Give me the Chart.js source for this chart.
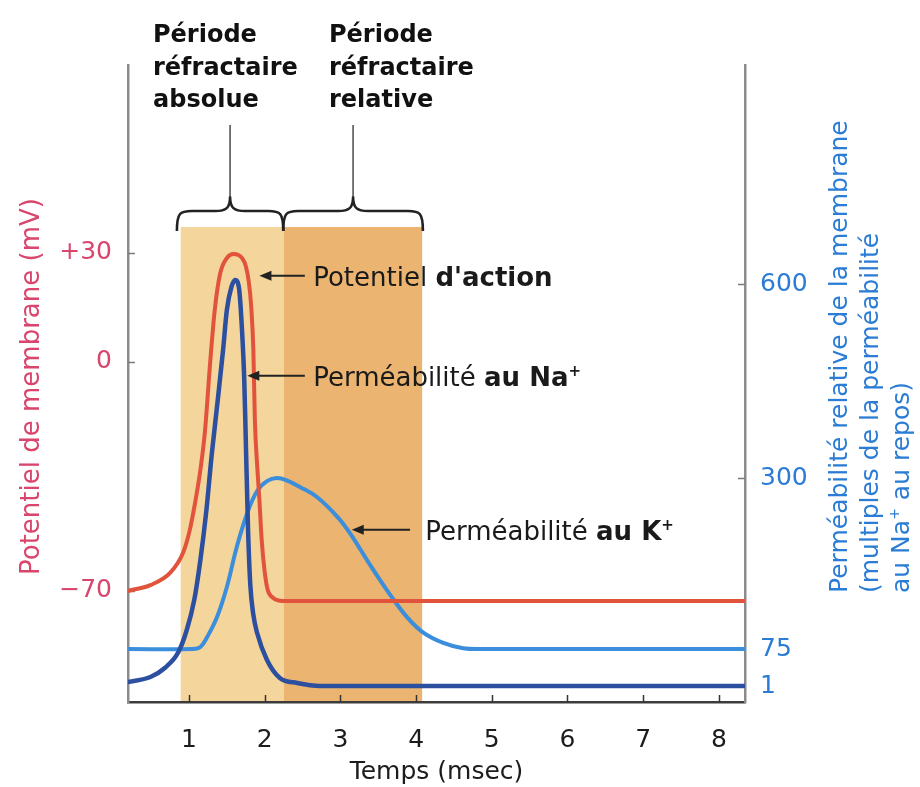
<!DOCTYPE html>
<html><head><meta charset="utf-8">
<script src="https://cdn.jsdelivr.net/npm/chart.js@4.4.0/dist/chart.umd.min.js"></script>
<style>html,body{margin:0;padding:0;background:#fff;}canvas{display:block;}</style>
</head><body>
<canvas id="c" width="920" height="787"></canvas>
<script>
// ---------- DATA ----------
const timeTicks = [1, 2, 3, 4, 5, 6, 7, 8];
const potentialTicks = [30, 0, -70];
const permeabilityTicks = [600, 300, 75, 1];

const potentialTime = [0.19,0.49,0.75,0.92,1.01,1.08,1.15,1.21,1.28,1.34,1.41,1.50,1.59,1.70,1.75,1.79,1.82,1.85,1.87,1.90,1.93,1.96,2.00,2.04,2.11,2.24,8.345];
const potentialMv   = [-70,-68.2,-64.5,-58.4,-51.4,-43.1,-33,-21.4,0,14.3,24.2,28.6,29.7,28.6,26.4,22.0,15.7,3.3,-17.7,-31.5,-42.2,-54.4,-64.2,-69.7,-72.1,-73.1,-73.1];

const naTime = [0.19,0.49,0.68,0.86,0.97,1.07,1.15,1.23,1.30,1.38,1.45,1.50,1.56,1.61,1.66,1.70,1.73,1.75,1.78,1.81,1.85,1.90,2.03,2.20,2.43,2.73,8.345];
const naPermeability = [9,19,37,69,100,140,192,258,336,421,498,560,595,606,594,529,451,359,232,159,120,96,53,17,7,1,1];

const kTime = [0.19,1.05,1.15,1.24,1.37,1.50,1.63,1.77,1.90,2.03,2.16,2.29,2.47,2.69,2.96,3.13,3.39,3.66,3.88,4.09,4.36,4.62,4.90,8.345];
const kPermeability = [75,75,77.6,90.8,117,156.6,209,254,283,296,300,297,288,275,249,227,186,146,117,97,83,76,75,75];

// refractory periods (msec): absolute [0..1], relative [1..2]
const periodBounds = [0.89, 2.255, 4.08];
const braceBounds = [0.84, 2.245, 4.09];
const periodLabels = [['Période', 'réfractaire', 'absolue'], ['Période', 'réfractaire', 'relative']];
const timeRange = [0.194, 8.345];

// ---------- STYLE / LAYOUT ----------
const FAM = '"DejaVu Sans"';
const F = (size, bold) => (bold ? 'bold ' : '') + size + 'px ' + FAM;
const COL = {
  red: '#e2533c', pink: '#d9456c', kBlue: '#3a8edb', naBlue: '#2c4f9f', blueText: '#2b7cd5',
  ink: '#1c1c1c', light: '#f4d59c', dark: '#ebb470'
};
// axis shapes (value -> fraction of plot height from bottom)
const axisShapes = {
  yV: { values: [-70, 0, 30], fracs: [0.1743, 0.5338, 0.7049] },
  yP: { values: [1, 75, 300, 600], fracs: [0.0251, 0.0832, 0.3516, 0.6562] }
};

function interp(v, xs, ys) {
  let i = 1;
  while (i < xs.length - 1 && v > xs[i]) i++;
  const x0 = xs[i - 1], x1 = xs[i];
  return ys[i - 1] + (v - x0) * (ys[i] - ys[i - 1]) / (x1 - x0);
}

class PiecewiseScale extends Chart.LinearScale {
  static id = 'piecewise';
  getPixelForValue(value, index) {
    if (value === null || value === undefined) return NaN;
    const s = axisShapes[this.id];
    return super.getPixelForValue(interp(value, s.values, s.fracs));
  }
  getValueForPixel(pixel) {
    const s = axisShapes[this.id];
    return interp(super.getValueForPixel(pixel), s.fracs, s.values);
  }
}
Chart.register(PiecewiseScale);

function drawRuns(ctx, x, y, runs) {
  for (const r of runs) {
    ctx.font = r.font;
    ctx.fillText(r.text, x, y + (r.dy || 0));
    x += ctx.measureText(r.text).width;
  }
  return x;
}

const annotations = [
  { axis: 'yV', tipT: 1.93, tipV: 23.7, tailT: 2.53, textT: 2.64,
    runs: [{ text: 'Potentiel ', font: F(26, false) }, { text: "d'action", font: F(26, true) }] },
  { axis: 'yP', tipT: 1.77, tipV: 458, tailT: 2.53, textT: 2.64,
    runs: [{ text: 'Perméabilité ', font: F(26, false) }, { text: 'au Na', font: F(26, true) }, { text: '+', font: F(15, true), dy: -10 }] },
  { axis: 'yP', tipT: 3.15, tipV: 232, tailT: 3.92, textT: 4.12,
    runs: [{ text: 'Perméabilité ', font: F(26, false) }, { text: 'au K', font: F(26, true) }, { text: '+', font: F(15, true), dy: -10 }] }
];

const decor = {
  id: 'decor',
  beforeDraw(chart) {
    const { ctx, chartArea: ca } = chart;
    const xs = chart.scales.x;
    const top = 227;
    const cols = [COL.light, COL.dark];
    ctx.save();
    for (let i = 0; i < 2; i++) {
      const a = xs.getPixelForValue(periodBounds[i]);
      const b = xs.getPixelForValue(periodBounds[i + 1]);
      ctx.fillStyle = cols[i];
      ctx.fillRect(a, top, b - a, ca.bottom - top);
    }
    ctx.restore();
  },
  beforeDatasetsDraw(chart) {
    const { ctx, chartArea: ca } = chart;
    const xs = chart.scales.x, yV = chart.scales.yV, yP = chart.scales.yP;
    ctx.save();
    ctx.lineWidth = 1.5;
    ctx.strokeStyle = '#333';
    for (const t of timeTicks) {
      const x = Math.round(xs.getPixelForValue(t)) + 0.5;
      ctx.beginPath(); ctx.moveTo(x, ca.bottom); ctx.lineTo(x, ca.bottom - 7); ctx.stroke();
    }
    ctx.strokeStyle = '#7a7a7a';
    for (const v of potentialTicks) {
      const y = Math.round(yV.getPixelForValue(v)) + 0.5;
      ctx.beginPath(); ctx.moveTo(ca.left, y); ctx.lineTo(ca.left + 7, y); ctx.stroke();
    }
    for (const v of permeabilityTicks) {
      const y = Math.round(yP.getPixelForValue(v)) + 0.5;
      ctx.beginPath(); ctx.moveTo(ca.right - 7, y); ctx.lineTo(ca.right, y); ctx.stroke();
    }
    ctx.restore();
  },
  afterDatasetsDraw(chart) {
    const { ctx, chartArea: ca } = chart;
    const xs = chart.scales.x;
    ctx.save();
    // braces + stems
    const yEnd = 231, yH = 211, yC = 197, stemTop = 125, r = 15;
    ctx.strokeStyle = '#222';
    ctx.lineWidth = 2.6;
    ctx.lineJoin = 'round';
    for (let i = 0; i < 2; i++) {
      const x1 = xs.getPixelForValue(braceBounds[i]);
      const x2 = xs.getPixelForValue(braceBounds[i + 1]);
      const xm = (x1 + x2) / 2;
      ctx.beginPath();
      ctx.moveTo(x1, yEnd);
      ctx.bezierCurveTo(x1, yH + 2, x1 + 3, yH, x1 + r, yH);
      ctx.lineTo(xm - r, yH);
      ctx.bezierCurveTo(xm - 4, yH, xm, yH - 3, xm, yC);
      ctx.bezierCurveTo(xm, yH - 3, xm + 4, yH, xm + r, yH);
      ctx.lineTo(x2 - r, yH);
      ctx.bezierCurveTo(x2 - 3, yH, x2, yH + 2, x2, yEnd);
      ctx.stroke();
      ctx.save();
      ctx.strokeStyle = '#555';
      ctx.lineWidth = 1.6;
      ctx.beginPath(); ctx.moveTo(xm, yC); ctx.lineTo(xm, stemTop); ctx.stroke();
      ctx.restore();
    }
    // period labels
    ctx.fillStyle = '#111';
    ctx.textBaseline = 'alphabetic';
    ctx.textAlign = 'left';
    ctx.font = F(24, true);
    const labelX = [153, 329];
    const baselines = [42, 74.5, 107];
    periodLabels.forEach((lines, i) => {
      lines.forEach((s, j) => ctx.fillText(s, labelX[i], baselines[j]));
    });
    // annotations with arrows
    for (const a of annotations) {
      const sc = chart.scales[a.axis];
      const y = sc.getPixelForValue(a.tipV);
      const tip = xs.getPixelForValue(a.tipT);
      const tail = xs.getPixelForValue(a.tailT);
      ctx.strokeStyle = '#222';
      ctx.fillStyle = '#222';
      ctx.lineWidth = 2;
      ctx.beginPath(); ctx.moveTo(tip + 8, y); ctx.lineTo(tail, y); ctx.stroke();
      ctx.beginPath(); ctx.moveTo(tip, y); ctx.lineTo(tip + 12, y - 5); ctx.lineTo(tip + 12, y + 5); ctx.closePath(); ctx.fill();
      ctx.fillStyle = '#1a1a1a';
      drawRuns(ctx, xs.getPixelForValue(a.textT), y + 10, a.runs);
    }
    // x-axis title
    ctx.fillStyle = COL.ink;
    ctx.font = F(25, false);
    ctx.textAlign = 'center';
    ctx.fillText('Temps (msec)', (ca.left + ca.right) / 2, 779);
    ctx.textAlign = 'left';
    // left axis title (rotated)
    ctx.save();
    ctx.fillStyle = COL.pink;
    ctx.translate(38.5, 575);
    ctx.rotate(-Math.PI / 2);
    ctx.font = F(26, false);
    ctx.fillText('Potentiel de membrane (mV)', 0, 0);
    ctx.restore();
    // right axis title (rotated, 3 lines)
    const rightLines = [
      [{ text: 'Perméabilité relative de la membrane', font: F(25, false) }],
      [{ text: '(multiples de la perméabilité', font: F(25, false) }],
      [{ text: 'au Na', font: F(25, false) }, { text: '+', font: F(14, false), dy: -10 }, { text: ' au repos)', font: F(25, false) }]
    ];
    const lineX = [847, 878, 909];
    rightLines.forEach((runs, i) => {
      ctx.save();
      ctx.fillStyle = COL.blueText;
      ctx.translate(lineX[i], 593);
      ctx.rotate(-Math.PI / 2);
      drawRuns(ctx, 0, 0, runs);
      ctx.restore();
    });
    ctx.restore();
  }
};

const pts = (xs, ys) => xs.map((x, i) => ({ x, y: ys[i] }));

new Chart(document.getElementById('c'), {
  type: 'line',
  data: {
    datasets: [
      { label: "Potentiel d'action", data: pts(potentialTime, potentialMv), yAxisID: 'yV',
        borderColor: COL.red, borderWidth: 4, pointRadius: 0, cubicInterpolationMode: 'monotone', fill: false },
      { label: 'Perméabilité au Na+', data: pts(naTime, naPermeability), yAxisID: 'yP',
        borderColor: COL.naBlue, borderWidth: 4.5, pointRadius: 0, cubicInterpolationMode: 'monotone', fill: false },
      { label: 'Perméabilité au K+', data: pts(kTime, kPermeability), yAxisID: 'yP',
        borderColor: COL.kBlue, borderWidth: 4, pointRadius: 0, tension: 0.4, fill: false }
    ]
  },
  options: {
    responsive: false, animation: false, devicePixelRatio: 1,
    layout: { padding: { top: 65, left: 0, right: 0, bottom: 0 } },
    plugins: { legend: { display: false }, tooltip: { enabled: false } },
    scales: {
      x: {
        type: 'linear', position: 'bottom', min: timeRange[0], max: timeRange[1],
        afterBuildTicks: s => { s.ticks = timeTicks.map(v => ({ value: v })); },
        afterFit: s => { s.height = 85; },
        grid: { display: false, drawTicks: false },
        border: { display: true, color: '#3c3c3c', width: 2.5 },
        ticks: { autoSkip: false, maxRotation: 0, padding: 23, color: COL.ink, font: { family: 'DejaVu Sans', size: 25 }, callback: v => String(v) }
      },
      yV: {
        type: 'piecewise', position: 'left', min: 0, max: 1,
        afterBuildTicks: s => { s.ticks = potentialTicks.map(v => ({ value: v })); },
        afterFit: s => { s.width = 128; },
        grid: { display: false, drawTicks: false },
        border: { display: true, color: '#8c8c8c', width: 2.5 },
        ticks: { autoSkip: false, padding: 16, color: COL.pink, font: { family: 'DejaVu Sans', size: 25 },
          callback: v => v > 0 ? '+' + v : (v < 0 ? '\u2212' + Math.abs(v) : '0') }
      },
      yP: {
        type: 'piecewise', position: 'right', min: 0, max: 1,
        afterBuildTicks: s => { s.ticks = permeabilityTicks.map(v => ({ value: v })); },
        afterFit: s => { s.width = 175; },
        grid: { display: false, drawTicks: false },
        border: { display: true, color: '#8c8c8c', width: 2.5 },
        ticks: { autoSkip: false, padding: 15, color: COL.blueText, font: { family: 'DejaVu Sans', size: 25 },
          callback: v => String(v) }
      }
    }
  },
  plugins: [decor]
});
</script>
</body></html>
